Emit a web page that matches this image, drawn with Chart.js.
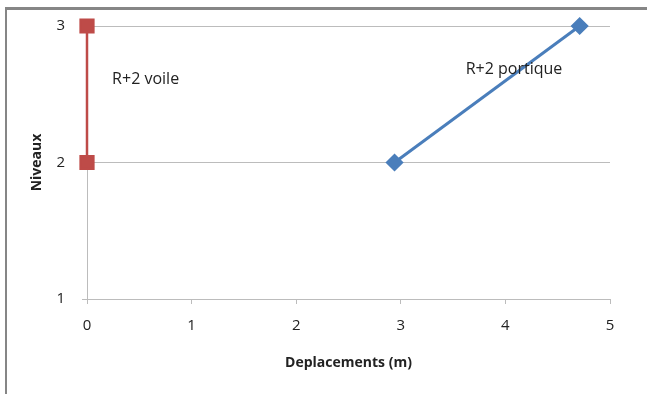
<!DOCTYPE html>
<html>
<head>
<meta charset="utf-8">
<script src="https://cdn.jsdelivr.net/npm/chart.js@4/dist/chart.umd.min.js"></script>
<style>
  html, body { margin: 0; padding: 0; background: #ffffff; overflow: hidden; }
  #wrap { width: 647px; height: 394px; position: relative; overflow: hidden; background: #ffffff; }
  #c { position: absolute; left: 0; top: 0; }
  .edge { position: absolute; background: #868686; pointer-events: none; z-index: 5; }
  #edgeTop { left: 5px; top: 7px; width: 642px; height: 3px; }
  #edgeLeft { left: 5px; top: 7px; width: 2px; height: 387px; }
</style>
</head>
<body>
<div id="wrap">
  <canvas id="c" width="647" height="394"></canvas>
  <div class="edge" id="edgeTop"></div>
  <div class="edge" id="edgeLeft"></div>
</div>
<script>
// Displacement (m) per storey level
const levels = [2, 3];
const voileDispl = [0, 0];
const portiqueDispl = [2.94, 4.71];
const xTicks = [0, 1, 2, 3, 4, 5];
const yTicks = [1, 2, 3];
const seriesNames = ['R+2 voile', 'R+2 portique'];

const FONT = '"Open Sans", "Liberation Sans", sans-serif';
const GRID = '#bcbcbc';
const TEXT = '#222222';

const toPoints = (xs, ys) => xs.map((x, i) => ({ x: x, y: ys[i] }));

// Series names written inside the plot area next to each line
const seriesLabelPlugin = {
  id: 'seriesLabels',
  afterDatasetsDraw(chart) {
    const ctx = chart.ctx;
    const xs = chart.scales.x, ys = chart.scales.y;
    ctx.save();
    ctx.font = '16px ' + FONT;
    ctx.fillStyle = TEXT;
    ctx.textBaseline = 'middle';
    ctx.textAlign = 'left';
    ctx.fillText(seriesNames[0], xs.getPixelForValue(0.24), ys.getPixelForValue(2.61));
    ctx.fillText(seriesNames[1], xs.getPixelForValue(3.62), ys.getPixelForValue(2.68));
    ctx.restore();
  }
};

new Chart(document.getElementById('c'), {
  type: 'scatter',
  data: {
    datasets: [
      {
        label: seriesNames[1],
        data: toPoints(portiqueDispl, levels),
        showLine: true,
        borderColor: '#4a7ebb',
        backgroundColor: '#4a7ebb',
        borderWidth: 3,
        pointStyle: 'rectRot',
        pointRadius: 7,
        pointHoverRadius: 7,
        clip: false
      },
      {
        label: seriesNames[0],
        data: toPoints(voileDispl, levels),
        showLine: true,
        borderColor: '#be4b48',
        backgroundColor: '#be4b48',
        borderWidth: 2.5,
        pointStyle: 'rect',
        pointRadius: 9,
        pointHoverRadius: 9,
        clip: false
      }
    ]
  },
  options: {
    responsive: false,
    animation: false,
    events: [],
    layout: { autoPadding: false, padding: { top: 25, right: 37, bottom: 23, left: 29 } },
    plugins: {
      legend: { display: false },
      tooltip: { enabled: false }
    },
    scales: {
      x: {
        type: 'linear',
        min: 0,
        max: 5,
        afterBuildTicks(scale) { scale.ticks = xTicks.map(v => ({ value: v })); },
        afterFit(scale) { scale.height = 72; },
        grid: { drawOnChartArea: false, drawTicks: true, tickLength: 5, color: GRID },
        border: { color: GRID, width: 1 },
        ticks: { color: TEXT, font: { family: FONT, size: 15 }, padding: 13, maxRotation: 0 },
        title: {
          display: true,
          text: 'Deplacements (m)',
          color: TEXT,
          font: { family: FONT, size: 14, weight: 'bold' },
          padding: { top: 0, bottom: 0 }
        }
      },
      y: {
        type: 'linear',
        min: 1,
        max: 3,
        afterBuildTicks(scale) { scale.ticks = yTicks.map(v => ({ value: v })); },
        afterFit(scale) { scale.width = 58; },
        grid: { drawTicks: true, tickLength: 5, color: GRID },
        border: { color: GRID, width: 1 },
        ticks: { color: TEXT, font: { family: FONT, size: 15 }, padding: 17 },
        title: {
          display: true,
          text: 'Niveaux',
          color: TEXT,
          font: { family: FONT, size: 14, weight: 'bold' },
          padding: { top: 0, bottom: 0 }
        }
      }
    }
  },
  plugins: [seriesLabelPlugin]
});
</script>
</body>
</html>
